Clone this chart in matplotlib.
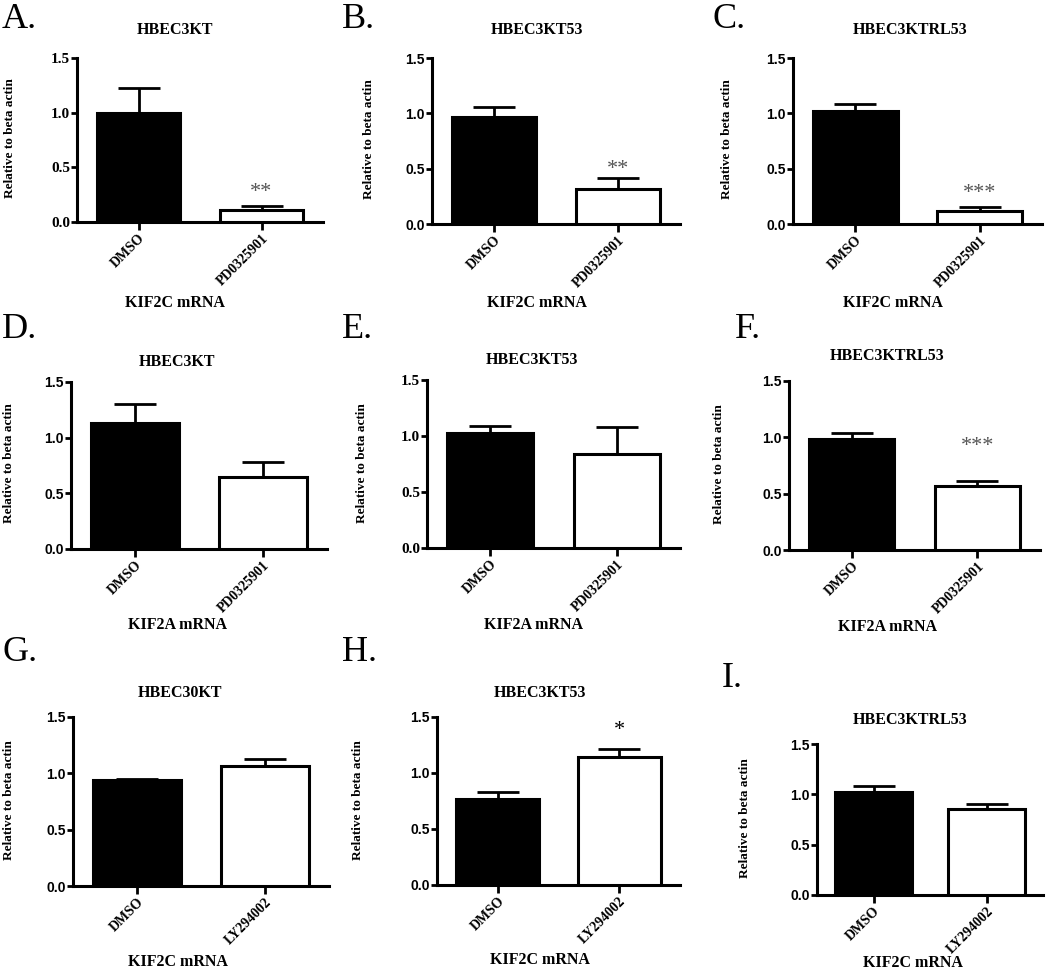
import matplotlib
matplotlib.use('Agg')
from matplotlib import pyplot as plt

# Data (mean, upward SEM)
panels = ['A.', 'B.', 'C.', 'D.', 'E.', 'F.', 'G.', 'H.', 'I.']
titles = ['HBEC3KT', 'HBEC3KT53', 'HBEC3KTRL53',
          'HBEC3KT', 'HBEC3KT53', 'HBEC3KTRL53',
          'HBEC30KT', 'HBEC3KT53', 'HBEC3KTRL53']
genes = ['KIF2C mRNA'] * 3 + ['KIF2A mRNA'] * 3 + ['KIF2C mRNA'] * 3
treatments = ['PD0325901'] * 6 + ['LY294002'] * 3
dmso_mean = [1.00, 0.965, 1.025, 1.135, 1.025, 0.985, 0.94, 0.77, 1.026]
dmso_err = [0.23, 0.09, 0.06, 0.165, 0.065, 0.05, 0.01, 0.06, 0.053]
trt_mean = [0.11, 0.315, 0.115, 0.65, 0.84, 0.568, 1.065, 1.145, 0.851]
trt_err = [0.04, 0.10, 0.035, 0.135, 0.24, 0.045, 0.065, 0.07, 0.053]
stars = ['**', '**', '***', '', '', '***', '', '*', '']
yticks = [0.0, 0.5, 1.0, 1.5]

W, H = 1050, 975

# layout in pixels: axis left, axis right, y=1.5 row, y=0 row
boxes = [(77, 323, 58, 222), (432, 680, 58, 224), (793, 1042, 58, 224),
         (71, 327, 382, 549), (427, 680, 380, 548), (789, 1040, 381, 550),
         (73, 329, 717, 886), (437, 680, 717, 885), (817, 1043, 744, 895)]
letter_pos = [(2, 3), (342, 3), (713, 3), (2, 313), (342, 313), (735, 313),
              (2, 636), (342, 636), (722, 662)]
title_pos = [(175, 30), (537, 30), (910, 30), (177, 362), (532, 360), (887, 356),
             (180, 693), (540, 693), (910, 720)]
xlab_pos = [(175, 303), (537, 303), (893, 303), (178, 625), (533, 625), (888, 627),
            (178, 962), (540, 960), (913, 963)]
ylab_pos = [(10, 138), (369, 139), (727, 139), (9, 463), (362, 463), (719, 464),
            (9, 800), (358, 800), (745, 818)]
star_y = [0.27, 0.49, 0.28, None, None, 0.92, None, 1.38, None]
sans_ticks = [False, True, True, True, False, True, True, True, True]

serif = 'Liberation Serif'
sans = 'Liberation Sans'


def fx(x):
    return x / W


def fy(y):
    return 1 - y / H


fig = plt.figure(figsize=(10.5, 9.75), dpi=100)

for i in range(9):
    x0, x1, yt, yb = boxes[i]
    ax = fig.add_axes([fx(x0), fy(yb), (x1 - x0) / W, (yb - yt) / H])
    xs = [0.25, 0.75]
    ax.bar(xs, [dmso_mean[i], trt_mean[i]], width=0.34,
           color=['black', 'white'], edgecolor='black', linewidth=2.2, zorder=3)
    for x, m, e in zip(xs, [dmso_mean[i], trt_mean[i]], [dmso_err[i], trt_err[i]]):
        ax.errorbar([x], [m], yerr=[[0], [e]], fmt='none', ecolor='black',
                    elinewidth=2, capsize=15, capthick=2, zorder=2)
    if stars[i]:
        ax.text(0.75, star_y[i], stars[i], ha='center', va='center',
                fontsize=16, color='#555555' if stars[i] != '*' else 'black',
                family=serif)
    ax.set_xlim(0, 1)
    ax.set_ylim(0, 1.5)
    ax.spines['top'].set_visible(False)
    ax.spines['right'].set_visible(False)
    ax.spines['left'].set_linewidth(2.2)
    ax.spines['bottom'].set_linewidth(2.2)
    ax.set_yticks(yticks)
    ax.set_yticklabels(['%.1f' % t for t in yticks])
    ax.set_xticks(xs)
    ax.set_xticklabels(['DMSO', treatments[i]], rotation=45, ha='right',
                       rotation_mode='anchor', family=serif, fontweight='bold',
                       fontsize=10)
    ax.tick_params(axis='y', length=4, width=2, pad=1, labelsize=10)
    ax.tick_params(axis='x', length=6, width=2, pad=1)
    for lab in ax.get_yticklabels():
        if sans_ticks[i]:
            lab.set_family(sans)
        else:
            lab.set_family(serif)
            lab.set_fontsize(11)
        lab.set_fontweight('bold')
    ax.patch.set_visible(False)

    fig.text(fx(letter_pos[i][0]), fy(letter_pos[i][1]), panels[i], ha='left',
             va='top', fontsize=26, family=serif)
    fig.text(fx(title_pos[i][0]), fy(title_pos[i][1]), titles[i], ha='center',
             va='center', fontsize=11.5, fontweight='bold', family=serif)
    fig.text(fx(xlab_pos[i][0]), fy(xlab_pos[i][1]), genes[i], ha='center',
             va='center', fontsize=11.5, fontweight='bold', family=serif)
    fig.text(fx(ylab_pos[i][0]), fy(ylab_pos[i][1]), 'Relative to beta actin',
             ha='center', va='center', rotation=90, fontsize=9.5,
             fontweight='bold', family=serif)

plt.savefig('out.png', dpi=100)
